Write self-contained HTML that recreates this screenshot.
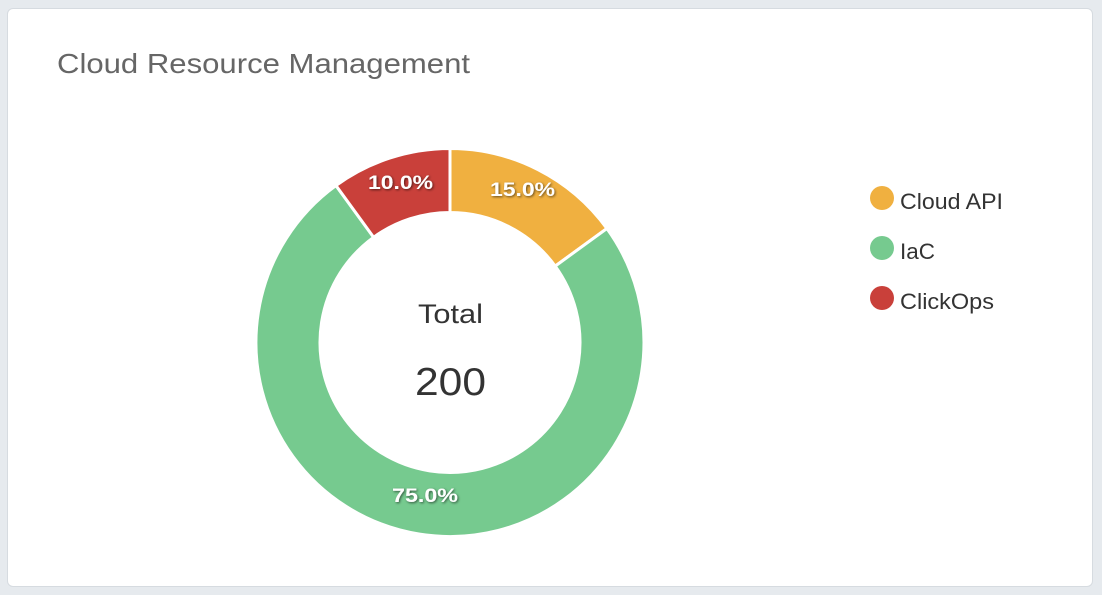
<!DOCTYPE html>
<html><head><meta charset="utf-8"><style>
html,body{margin:0;padding:0;width:1102px;height:595px;overflow:hidden;background:#e6eaee;font-family:"Liberation Sans",sans-serif}
.card{position:absolute;left:7px;top:8px;width:1084px;height:577px;background:#fff;border:1px solid #d6dbe0;border-radius:6px}
</style></head><body>
<div class="card"></div>
<svg width="1102" height="595" style="position:absolute;left:0;top:0">
<defs><filter id="sh" x="-20%" y="-20%" width="140%" height="140%"><feDropShadow dx="1" dy="1" stdDeviation="1.2" flood-color="#000" flood-opacity="0.6"/></filter></defs>
<text x="57" y="73" font-size="28" fill="#666" textLength="413" lengthAdjust="spacingAndGlyphs">Cloud Resource Management</text>
<g stroke="#fff" stroke-width="3" stroke-linejoin="miter">
<path d="M450,148.5 A194,194 0 0 1 606.9,228.5 L555.2,266.1 A130,130 0 0 0 450,212.5 Z" fill="#f0b040"/>
<path d="M606.9,228.5 A194,194 0 1 1 335.97,185.55 L373.6,237.3 A130,130 0 1 0 555.2,266.1 Z" fill="#76ca8f"/>
<path d="M335.97,185.55 A194,194 0 0 1 450,148.5 L450,212.5 A130,130 0 0 0 373.6,237.3 Z" fill="#c9403a"/>
</g>
<g font-size="19" font-weight="bold" fill="#fff" filter="url(#sh)">
<text x="490" y="196" textLength="65" lengthAdjust="spacingAndGlyphs">15.0%</text>
<text x="368" y="189" textLength="65" lengthAdjust="spacingAndGlyphs">10.0%</text>
<text x="392" y="502" textLength="66" lengthAdjust="spacingAndGlyphs">75.0%</text>
</g>
<text x="418" y="323" font-size="27" fill="#333" textLength="65" lengthAdjust="spacingAndGlyphs">Total</text>
<text x="415" y="395" font-size="39" fill="#333" textLength="71" lengthAdjust="spacingAndGlyphs">200</text>
<circle cx="882" cy="198" r="12" fill="#f0b040"/>
<circle cx="882" cy="248" r="12" fill="#76ca8f"/>
<circle cx="882" cy="298" r="12" fill="#c9403a"/>
<g font-size="22" fill="#333">
<text x="900" y="209" textLength="103" lengthAdjust="spacingAndGlyphs">Cloud API</text>
<text x="900" y="259" textLength="35" lengthAdjust="spacingAndGlyphs">IaC</text>
<text x="900" y="309" textLength="94" lengthAdjust="spacingAndGlyphs">ClickOps</text>
</g>
</svg>
</body></html>
